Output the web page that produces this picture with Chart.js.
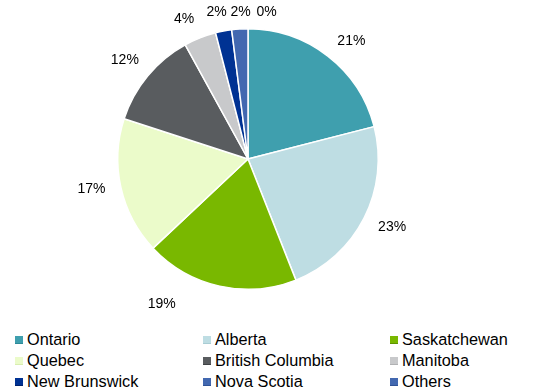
<!DOCTYPE html>
<html>
<head>
<meta charset="utf-8">
<script src="https://cdn.jsdelivr.net/npm/chart.js@4/dist/chart.umd.min.js"></script>
<style>
  html, body { margin: 0; padding: 0; background: #fff; }
  #wrap { position: relative; width: 533px; height: 392px; overflow: hidden; font-family: 'Liberation Sans', Arial, sans-serif; }
  #pie { position: absolute; left: 0; top: 0; }
  #legend { position: absolute; left: 15px; top: 330px; display: grid; grid-template-columns: 188px 187px 140px; row-gap: 3px; }
  .item { display: flex; align-items: center; font-size: 16.3px; line-height: 18px; color: #000; white-space: nowrap; }
  .box { width: 8px; height: 8px; margin-right: 4px; margin-top: 2px; box-sizing: border-box; }
</style>
</head>
<body>
<div id="wrap">
  <canvas id="pie" width="533" height="320"></canvas>
  <div id="legend"></div>
</div>
<script>
const provinces = ['Ontario', 'Alberta', 'Saskatchewan', 'Quebec', 'British Columbia', 'Manitoba', 'New Brunswick', 'Nova Scotia', 'Others'];
const shares = [21, 23, 19, 17, 12, 4, 2, 2, 0];
const colors = ['#3f9fae', '#bedde3', '#79b800', '#ebfbca', '#595c5f', '#c8c9cb', '#003293', '#4268b0', '#4268b0'];
const edges = ['#2d8a98', '#a9cdd4', '#5f9400', '#d8eeb0', '#3f4245', '#b0b1b3', '#00226d', '#2f5296', '#2f5296'];
// hand nudges for the best-fit label spots
const nudges = [[7, 6], [4, -3], [-52, -8], [-3, -4], [-2, 1], [-6, 6], [-2, 0], [-2, 0], [0, 0]];

// percent labels outside the pie, small top slices pushed into a row
const outsideLabels = {
  id: 'outsideLabels',
  afterDatasetsDraw(chart) {
    const { ctx } = chart;
    const arcs = chart.getDatasetMeta(0).data;
    const pts = arcs.map((a, i) => {
      const mid = (a.startAngle + a.endAngle) / 2;
      const r = a.outerRadius + 27;
      return { x: a.x + Math.cos(mid) * r, y: a.y + Math.sin(mid) * r, text: shares[i] + '%' };
    });
    pts.forEach(p => { if (p.y < 12) p.y = 12; });
    for (let i = 1; i < pts.length; i++) {
      const p = pts[i], q = pts[i - 1];
      if (p.y === 12 && q.y < 20 && p.x - q.x < 24) p.x = q.x + 24;
    }
    pts.forEach((p, i) => { p.x += nudges[i][0]; p.y += nudges[i][1]; });
    ctx.save();
    ctx.font = '14px "Liberation Sans", Arial, sans-serif';
    ctx.fillStyle = '#000';
    ctx.textAlign = 'center';
    ctx.textBaseline = 'middle';
    pts.forEach(p => ctx.fillText(p.text, p.x, p.y));
    ctx.restore();
  }
};

new Chart(document.getElementById('pie'), {
  type: 'pie',
  data: {
    labels: provinces,
    datasets: [{ data: shares, backgroundColor: colors, borderColor: '#fff', borderWidth: 1.5 }]
  },
  options: {
    responsive: false,
    animation: false,
    layout: { padding: { top: 28, bottom: 30, left: 0, right: 37 } },
    plugins: { legend: { display: false }, tooltip: { enabled: false } }
  },
  plugins: [outsideLabels]
});

const legend = document.getElementById('legend');
provinces.forEach((name, i) => {
  const item = document.createElement('div');
  item.className = 'item';
  item.innerHTML = `<span class="box" style="background:${colors[i]};border-bottom:1px solid ${edges[i]}"></span>${name}`;
  legend.appendChild(item);
});
</script>
</body>
</html>
